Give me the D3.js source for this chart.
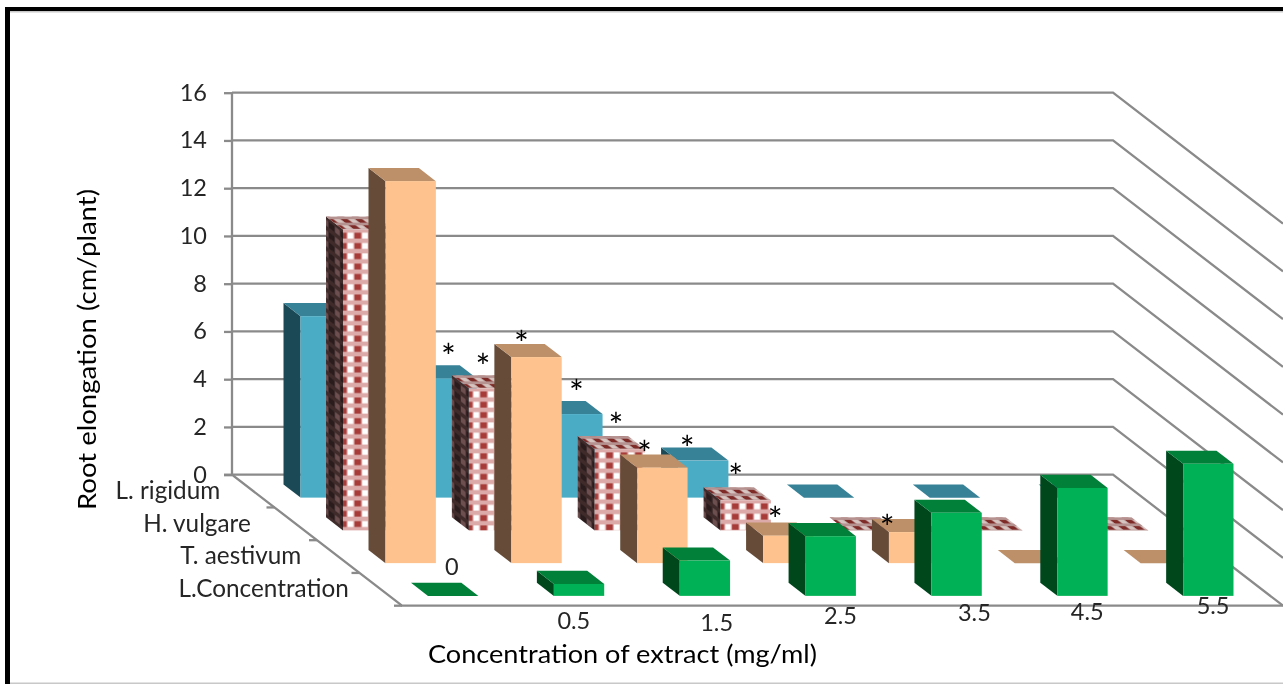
<!DOCTYPE html>
<html>
<head>
<meta charset="utf-8">
<script src="https://cdn.jsdelivr.net/npm/d3@7/dist/d3.min.js"></script>
<style>
    html, body { margin:0; padding:0; background:#fff; overflow:hidden; }
    svg { display:block; }
    text { font-family:Lato, "Open Sans", sans-serif; fill:#262626; }
    .axis path { display:none; }
    .axis line { stroke:#8a8a8a; stroke-width:2.3; }
</style>
</head>
<body>
<div id="chart"></div>
<script>
// chart values
const concentrations = ['0', '0.5', '1.5', '2.5', '3.5', '4.5', '5.5'];
const rowNames = ['L. rigidum', 'H. vulgare', 'T. aestivum', 'L.Concentration'];
const lRigidum = [7.6, 5.0, 3.5, 1.55, 0, 0, 0];
const hVulgare = [12.6, 5.95, 3.4, 1.26, 0, 0, 0];
const tAestivum = [16, 8.63, 4.0, 1.15, 1.3, 0, 0];
const lConcentration = [0, 0.5, 1.48, 2.5, 3.48, 4.52, 5.53];
const yTicks = [0, 2, 4, 6, 8, 10, 12, 14, 16];

// significance marks: which bar they belong to
const starRows = [0, 1, 2, 0, 1, 2, 0, 1, 2, 2];
const starCats = [1, 1, 1, 2, 2, 2, 3, 3, 3, 4];

// hand placed text in the original, so nudges are kept apart from the values
const starNudge = [[-3,-29],[-11,-29],[-15,-21],[-1,-29],[-4,-31],[-18,-21],[-16,-19],[-10,-31],[-13,-23],[-27,-12]];
const rowNudge = [[-33,0],[-45,0],[-37,0],[-32,0]];
const catNudge = [[-13,-38],[-17,16],[0,18],[-2,11],[6,8],[-7,7],[-7,1]];

const faces = [
    {front:'#4bacc6', side:'#1f4a57', top:'#378298'},
    {front:'url(#check-front)', side:'url(#check-side)', top:'url(#check-top)'},
    {front:'#fdc28d', side:'#664c38', top:'#bd9069'},
    {front:'#05b254', side:'#00471f', top:'#008038'}
];

const width = 1283;
const height = 684;
const plot = {l:232, r:1113, t:92.7, b:474.7};
const slant = {x:170, y:131};

const svg = d3.select('#chart').append('svg')
    .attr('width', width)
    .attr('height', height);

const defs = svg.append('defs');

// slightly soft, the original is an enlarged bitmap
defs.append('filter')
    .attr('id', 'soft')
    .attr('x', 0).attr('y', 0)
    .attr('width', 1).attr('height', 1)
    .attr('filterUnits', 'objectBoundingBox')
    .append('feGaussianBlur')
    .attr('stdDeviation', 0.6);

// checked fill of the H. vulgare bars, one pattern per face
function checkPattern(id, transform, base, light, dark) {
    const p = defs.append('pattern')
        .attr('id', id)
        .attr('patternUnits', 'userSpaceOnUse')
        .attr('width', 14.5)
        .attr('height', 10.3)
        .attr('patternTransform', transform);
    p.append('rect').attr('width', 14.5).attr('height', 10.3).attr('fill', base);
    p.append('rect').attr('x', 4.7).attr('y', 3.2).attr('width', 5.6).attr('height', 5.8).attr('fill', light);
    p.append('rect').attr('x', 11.5).attr('y', 3.2).attr('width', 3).attr('height', 5.8).attr('fill', dark);
    p.append('rect').attr('x', 0).attr('y', 3.2).attr('width', 3.5).attr('height', 5.8).attr('fill', dark);
}
checkPattern('check-front', null, '#dcaba9', '#ffffff', '#a63a38');
checkPattern('check-side', 'skewY(37.6) scale(0.8,1)', '#3f2c2c', '#6d5050', '#2a1c1c');
checkPattern('check-top', 'skewX(52.6) scale(1,0.6)', '#b5918f', '#d6c4c0', '#7e2a28');

// setting up scales
const scaleX = d3.scaleBand()
    .domain(concentrations.map((d, i) => i))
    .range([plot.l + 1, plot.r + 1])
    .paddingInner(0.6)
    .paddingOuter(0.3);
const scaleRow = d3.scaleBand()
    .domain(rowNames.map((d, i) => i))
    .range([0, 1])
    .paddingInner(0.6)
    .paddingOuter(0.3);
const scaleY = d3.scaleLinear()
    .domain([0, 16])
    .range([plot.b, plot.t]);
const depthX = d3.scaleLinear().domain([0, 1]).range([0, slant.x]);
const depthY = d3.scaleLinear().domain([0, 1]).range([0, slant.y]);

const chart = svg.append('g').attr('filter', 'url(#soft)');

// white page and frame
chart.append('rect').attr('width', width).attr('height', height).attr('fill', '#fff');
chart.append('rect').attr('x', 5).attr('y', 11).attr('width', width).attr('height', 1.5).attr('fill', '#c8c8c8');
chart.append('rect').attr('x', 10).attr('y', 682.5).attr('width', width).attr('height', 1.5).attr('fill', '#c8c8c8');
chart.append('rect').attr('x', 5).attr('y', 7).attr('width', width).attr('height', 4).attr('fill', '#000');
chart.append('rect').attr('x', 5).attr('y', 7).attr('width', 5).attr('height', height).attr('fill', '#000');

// gridlines: along the back wall, then down the right side
chart.append('g')
    .selectAll('path')
    .data(yTicks)
    .join('path')
    .attr('d', d => d3.line()([
        [plot.l, scaleY(d)],
        [plot.r, scaleY(d)],
        [plot.r + depthX(1), scaleY(d) + depthY(1)]
    ]))
    .attr('fill', 'none')
    .attr('stroke', '#8a8a8a')
    .attr('stroke-width', 2.3);

// floor edges
chart.append('path')
    .attr('d', d3.line()([
        [plot.l, plot.t],
        [plot.l, plot.b],
        [plot.l + depthX(1), plot.b + depthY(1)],
        [plot.r + depthX(1), plot.b + depthY(1)]
    ]))
    .attr('fill', 'none')
    .attr('stroke', '#8a8a8a')
    .attr('stroke-width', 2.3);

// y axis
const axisY = d3.axisLeft(scaleY)
    .tickValues(yTicks)
    .tickSize(8)
    .tickPadding(17);
chart.append('g')
    .attr('class', 'axis axis-y')
    .attr('transform', `translate(${plot.l},0)`)
    .call(axisY)
    .selectAll('text')
    .style('font-size', '23.5px')
    .attr('fill', null);

// depth axis ticks and row labels
const rowEdges = [0, 0.25, 0.5, 0.75, 1];
chart.append('g')
    .selectAll('line')
    .data(rowEdges)
    .join('line')
    .attr('x1', d => plot.l + depthX(d) - 8)
    .attr('x2', d => plot.l + depthX(d))
    .attr('y1', d => plot.b + depthY(d))
    .attr('y2', d => plot.b + depthY(d))
    .attr('stroke', '#8a8a8a')
    .attr('stroke-width', 2.3);

chart.append('g')
    .selectAll('text')
    .data(rowNames)
    .join('text')
    .attr('x', (d, i) => plot.l + depthX(scaleRow(i) + scaleRow.bandwidth() / 2) + rowNudge[i][0])
    .attr('y', (d, i) => plot.b + depthY(scaleRow(i) + scaleRow.bandwidth() / 2) + rowNudge[i][1])
    .attr('dy', '0.32em')
    .attr('text-anchor', 'end')
    .style('font-size', '24.3px')
    .text(d => d);

// bars, back row first
const allSeries = [lRigidum, hVulgare, tAestivum, lConcentration];
const bars = allSeries.flatMap((values, row) => values.map((value, cat) => ({row, cat, value})));
const barW = scaleX.bandwidth();
const sideX = depthX(scaleRow.bandwidth());
const sideY = depthY(scaleRow.bandwidth());
const frontX = d => scaleX(d.cat) + depthX(scaleRow(d.row) + scaleRow.bandwidth());
const floorY = d => plot.b + depthY(scaleRow(d.row) + scaleRow.bandwidth());
const topY = d => floorY(d) - (plot.b - scaleY(d.value));

const barNodes = chart.append('g')
    .selectAll('g')
    .data(bars)
    .join('g')
    .attr('transform', d => `translate(${frontX(d)},${topY(d)})`);

barNodes.append('path')
    .attr('d', d => d3.line()([[0, 0], [-sideX, -sideY], [-sideX, floorY(d) - topY(d) - sideY], [0, floorY(d) - topY(d)]]) + 'Z')
    .attr('fill', d => faces[d.row].side);
barNodes.append('path')
    .attr('d', d3.line()([[0, 0], [-sideX, -sideY], [barW - sideX, -sideY], [barW, 0]]) + 'Z')
    .attr('fill', d => faces[d.row].top);
barNodes.append('rect')
    .attr('width', barW)
    .attr('height', d => floorY(d) - topY(d))
    .attr('fill', d => faces[d.row].front);

// asterisks over the bars
chart.append('g')
    .selectAll('text')
    .data(starRows)
    .join('text')
    .attr('x', (d, i) => frontX({row:d, cat:starCats[i]}) + barW / 2 + starNudge[i][0])
    .attr('y', (d, i) => topY({row:d, cat:starCats[i], value:allSeries[d][starCats[i]]}) + starNudge[i][1])
    .attr('dy', '0.56em')
    .attr('text-anchor', 'middle')
    .style('font-size', '35px')
    .style('fill', '#000')
    .text('*');

// x axis, labels wander in the original
const axisX = d3.axisBottom(scaleX)
    .tickSize(0)
    .tickFormat(i => concentrations[i]);
const axisXNode = chart.append('g')
    .attr('class', 'axis axis-x')
    .attr('transform', `translate(${depthX(1) - 1},${plot.b + depthY(1)})`)
    .call(axisX);
axisXNode.selectAll('text')
    .attr('x', (d, i) => catNudge[i][0])
    .attr('y', (d, i) => catNudge[i][1])
    .attr('dy', '0.32em')
    .style('font-size', '23.5px')
    .attr('fill', null);

// axis titles
chart.append('text')
    .attr('transform', 'translate(88,349.5) rotate(-90)')
    .attr('dy', '0.32em')
    .attr('text-anchor', 'middle')
    .attr('textLength', 321)
    .attr('lengthAdjust', 'spacingAndGlyphs')
    .style('font-size', '25.5px')
    .style('fill', '#000')
    .text('Root elongation (cm/plant)');
chart.append('text')
    .attr('x', 622.5)
    .attr('y', 655)
    .attr('dy', '0.32em')
    .attr('text-anchor', 'middle')
    .attr('textLength', 389)
    .attr('lengthAdjust', 'spacingAndGlyphs')
    .style('font-size', '25.5px')
    .style('fill', '#000')
    .text('Concentration of extract (mg/ml)');
</script>
</body>
</html>
